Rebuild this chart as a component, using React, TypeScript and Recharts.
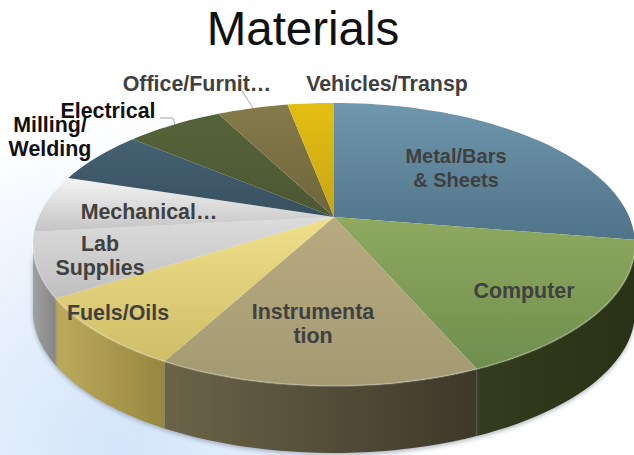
import { PieChart, Pie } from "recharts";

const CATEGORIES = [
  "Metal/Bars & Sheets",
  "Computer",
  "Instrumentation",
  "Fuels/Oils",
  "Lab Supplies",
  "Mechanical",
  "Milling/Welding",
  "Electrical",
  "Office/Furniture",
  "Vehicles/Transp",
];
const VALUES = [27.6, 15.9, 14.4, 8.1, 7.3, 6.6, 6.2, 6.3, 4.6, 3];
const LABEL_LINES = [
  ["Metal/Bars", "& Sheets"],
  ["Computer"],
  ["Instrumenta", "tion"],
  ["Fuels/Oils"],
  ["Lab", "Supplies"],
  ["Mechanical…"],
  ["Milling/", "Welding"],
  ["Electrical"],
  ["Office/Furnit…"],
  ["Vehicles/Transp"],
];

// [from, to] colours for the top face and the side wall of each slice
const TOP_COLORS = [
  ["#7097ae", "#4f7388"],
  ["#8fa95f", "#6f8e4e"],
  ["#b9aa80", "#a39a72"],
  ["#f0e08a", "#cfbd68"],
  ["#dcdcdc", "#bfbfbf"],
  ["#f4f4f4", "#c4c4c4"],
  ["#446172", "#385060"],
  ["#55633a", "#4c5732"],
  ["#857a4a", "#6f653c"],
  ["#e3bf14", "#c9a512"],
];
const WALL_COLORS = [
  ["#3a5a6a", "#2c4452"],
  ["#333c1e", "#2a3116"],
  ["#6b6448", "#3e3829"],
  ["#bcab5c", "#97873f"],
  ["#868686", "#a0a0a0"],
  ["#999999", "#999999"],
  ["#2d4350", "#2d4350"],
  ["#3a4426", "#3a4426"],
  ["#5a5232", "#5a5232"],
  ["#a88a10", "#a88a10"],
];

// where each label sits, by slice
const LABEL_POS = [
  { x: 456, y: 163, size: 20 },
  { x: 524, y: 298 },
  { x: 313, y: 319 },
  { x: 118, y: 320 },
  { x: 100, y: 251 },
  { x: 149, y: 219 },
  { x: 50, y: 132, fill: "#111111" },
  { x: 108, y: 118, fill: "#111111" },
  { x: 197, y: 91 },
  { x: 387, y: 91 },
];

const FONT = "'Liberation Sans', Arial, sans-serif";
const W = 634;
const H = 455;

// perspective ellipse the pie lies on
const CX = 334;
const CY = 217;
const RX = 295.3;
const RY = 136.2;
const K = 0.194;
const DEPTH = 67;

const chartData = CATEGORIES.map((name, i) => ({ name, value: VALUES[i] }));

function project(deg: number, dy = 0): [number, number] {
  const a = ((90 - deg) * Math.PI) / 180;
  const u = Math.sin(a);
  const v = Math.cos(a);
  const w = 1 + K * v;
  return [CX + (RX * u) / w, CY - (RY * v) / w + dy];
}

function arcPoints(from: number, to: number, dy = 0) {
  const steps = Math.max(2, Math.ceil(Math.abs(to - from) / 2));
  const pts: string[] = [];
  for (let s = 0; s <= steps; s++) {
    const [x, y] = project(from + ((to - from) * s) / steps, dy);
    pts.push(`${x.toFixed(1)} ${y.toFixed(1)}`);
  }
  return pts;
}

function TopSlice(props: any) {
  const pts = arcPoints(props.startAngle, props.endAngle);
  const from = Math.min(props.startAngle, -11);
  const to = Math.max(props.endAngle, -169);
  return (
    <g>
      <path d={`M${CX} ${CY}L${pts.join("L")}Z`} fill={`url(#top-${props.index})`} />
      {from > to && (
        <path
          d={`M${arcPoints(from, to).join("L")}`}
          fill="none"
          stroke="#ffffff"
          strokeOpacity={0.22}
          strokeWidth={2}
        />
      )}
    </g>
  );
}

function WallSlice(props: any) {
  // only the front of the rim is visible: 101 to 259 degrees clockwise from 12
  const from = Math.min(props.startAngle, -11);
  const to = Math.max(props.endAngle, -169);
  if (from <= to) return null;
  const top = arcPoints(from, to);
  const bottom = arcPoints(to, from, DEPTH);
  return (
    <path
      d={`M${top.join("L")}L${bottom.join("L")}Z`}
      fill={`url(#wall-${props.index})`}
      style={{ filter: "drop-shadow(0 2px 2px rgba(90,100,120,0.45))" }}
    />
  );
}

function renderLabel(props: any) {
  const pos: { x: number; y: number; size?: number; fill?: string } = LABEL_POS[props.index];
  return (
    <text
      key={props.index}
      textAnchor="middle"
      fontFamily={FONT}
      fontSize={pos.size ?? 21.4}
      fontWeight={700}
      fill={pos.fill ?? "#404040"}
    >
      {LABEL_LINES[props.index].map((line, i) => (
        <tspan key={line} x={pos.x} y={pos.y + i * 24}>
          {line}
        </tspan>
      ))}
    </text>
  );
}

export default function App() {
  return (
    <div style={{ position: "absolute", left: 0, top: 0, width: W, height: H }}>
      <PieChart width={W} height={H} margin={{ top: 0, right: 0, bottom: 0, left: 0 }}>
        <defs>
          <radialGradient id="bg" gradientUnits="userSpaceOnUse" cx={120} cy={450} r={330}>
            <stop offset="0%" stopColor="#d3e5fa" />
            <stop offset="50%" stopColor="#e6f0fc" />
            <stop offset="100%" stopColor="#ffffff" />
          </radialGradient>
          {TOP_COLORS.map((c, i) => (
            <linearGradient key={i} id={`top-${i}`} x1="0" y1="0" x2="0" y2="1">
              <stop offset="0%" stopColor={c[0]} />
              <stop offset="100%" stopColor={c[1]} />
            </linearGradient>
          ))}
          {WALL_COLORS.map((c, i) => (
            <linearGradient key={i} id={`wall-${i}`} x1="0" y1="0" x2="1" y2="0">
              <stop offset="0%" stopColor={i === 4 ? c[1] : c[0]} />
              <stop offset="100%" stopColor={i === 4 ? c[0] : c[1]} />
            </linearGradient>
          ))}
        </defs>
        <rect x={0} y={0} width={W} height={H} fill="url(#bg)" />
        <text x={303} y={45} textAnchor="middle" fontFamily={FONT} fontSize={47.5} fill="#111111">
          Materials
        </text>
        <Pie
          data={chartData}
          dataKey="value"
          nameKey="name"
          cx={CX}
          cy={CY}
          outerRadius={100}
          startAngle={90}
          endAngle={-270}
          stroke="none"
          shape={WallSlice}
          isAnimationActive={false}
        />
        <Pie
          data={chartData}
          dataKey="value"
          nameKey="name"
          cx={CX}
          cy={CY}
          outerRadius={100}
          startAngle={90}
          endAngle={-270}
          stroke="none"
          shape={TopSlice}
          label={renderLabel}
          labelLine={false}
          isAnimationActive={false}
        />
        <polyline points="160,118 173,118 175,125" fill="none" stroke="#a6a6a6" strokeWidth={1} />
        <polyline points="242,91 253,108" fill="none" stroke="#a6a6a6" strokeWidth={1} />
      </PieChart>
    </div>
  );
}
